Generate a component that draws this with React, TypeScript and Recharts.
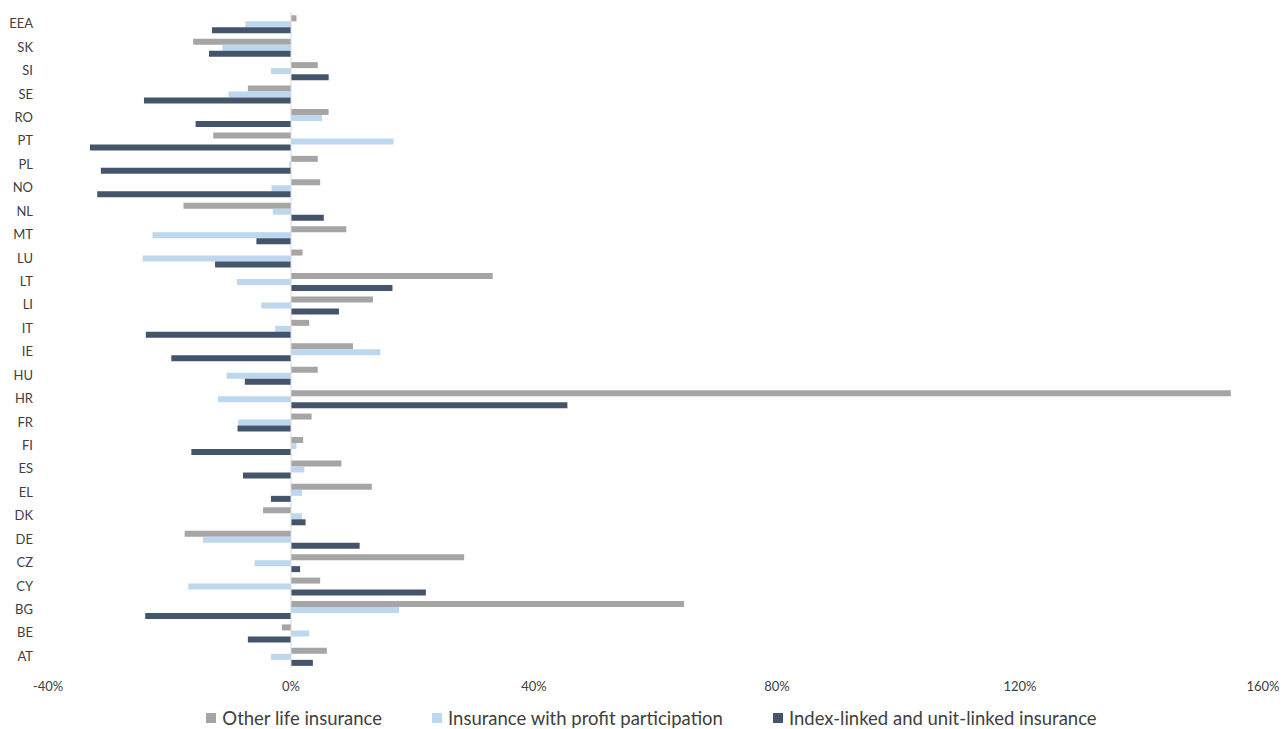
import React from "react";
import { BarChart, Bar, XAxis, YAxis, Legend, ReferenceLine } from "recharts";

if (typeof document !== "undefined") {
  document.body.style.margin = "0";
}

const categories = ["EEA","SK","SI","SE","RO","PT","PL","NO","NL","MT","LU","LT","LI","IT","IE","HU","HR","FR","FI","ES","EL","DK","DE","CZ","CY","BG","BE","AT"];
const otherLife = [0.9,-16.1,4.4,-7.1,6.2,-12.8,4.4,4.8,-17.7,9.1,1.9,33.2,13.5,3.0,10.2,4.4,154.7,3.4,2.0,8.3,13.3,-4.6,-17.5,28.5,4.8,64.7,-1.5,5.9];
const profitPart = [-7.5,-11.3,-3.3,-10.3,5.1,16.9,-0.3,-3.2,-3.0,-22.8,-24.4,-8.9,-4.9,-2.6,14.7,-10.6,-12.0,-8.7,0.9,2.2,1.8,1.8,-14.5,-6.0,-16.9,17.8,3.0,-3.3];
const indexLinked = [-13.0,-13.5,6.2,-24.2,-15.7,-33.1,-31.3,-31.9,5.4,-5.7,-12.5,16.7,7.9,-23.9,-19.7,-7.6,45.5,-8.8,-16.4,-7.9,-3.3,2.4,11.3,1.5,22.2,-24.0,-7.1,3.6];
const xTicks = [-40, 0, 40, 80, 120, 160];

const seriesNames = ["Other life insurance", "Insurance with profit participation", "Index-linked and unit-linked insurance"];
const colors = ["#A5A5A5", "#BDD7EE", "#44546A"];

const data = categories.map((c, i) => ({
  country: c,
  other: otherLife[i],
  profit: profitPart[i],
  index: indexLinked[i],
}));

const FONT = "Lato, 'Open Sans', sans-serif";

const renderLegend = (props: any) => {
  const payload = [...(props.payload || [])].sort(
    (a: any, b: any) => seriesNames.indexOf(a.value) - seriesNames.indexOf(b.value)
  );
  return (
    <div style={{ boxSizing: "border-box", width: "100%", display: "flex", justifyContent: "center", alignItems: "center", height: 22, fontFamily: FONT, fontSize: 18.5, color: "#404040", whiteSpace: "nowrap" }}>
      <div style={{ display: "flex", alignItems: "center", marginLeft: 22 }}>
        {payload.map((p: any, i: number) => (
          <div key={i} style={{ display: "flex", alignItems: "center", marginRight: i < payload.length - 1 ? 50 : 0 }}>
            <span style={{ display: "inline-block", width: 10, height: 10, background: p.color, marginRight: 6 }} />
            <span>{p.value}</span>
          </div>
        ))}
      </div>
    </div>
  );
};

export default function App() {
  return (
    <div style={{ width: 1283, height: 729, overflow: "hidden" }}>
      <BarChart
        width={1283}
        height={729}
        data={data}
        layout="vertical"
        margin={{ top: 12, right: 20, bottom: 0, left: 18 }}
        barCategoryGap="14%"
        barGap={0}
      >
        <XAxis
          type="number"
          domain={[-40, 160]}
          ticks={xTicks}
          tickFormatter={(v: number) => `${v}%`}
          axisLine={false}
          tickLine={false}
          tickMargin={8}
          height={39}
          tick={{ fontFamily: FONT, fontSize: 13, fill: "#404040" }}
          interval={0}
        />
        <YAxis
          type="category"
          dataKey="country"
          width={30}
          axisLine={false}
          tickLine={false}
          tickSize={0}
          tickMargin={15}
          interval={0}
          tick={{ fontFamily: FONT, fontSize: 13, fill: "#404040" }}
        />
        <ReferenceLine x={0} stroke="#D9D9D9" strokeWidth={1} />
        <Bar dataKey="other" name={seriesNames[0]} fill={colors[0]} isAnimationActive={false} />
        <Bar dataKey="profit" name={seriesNames[1]} fill={colors[1]} isAnimationActive={false} />
        <Bar dataKey="index" name={seriesNames[2]} fill={colors[2]} isAnimationActive={false} />
        <Legend verticalAlign="bottom" content={renderLegend} />
      </BarChart>
    </div>
  );
}
